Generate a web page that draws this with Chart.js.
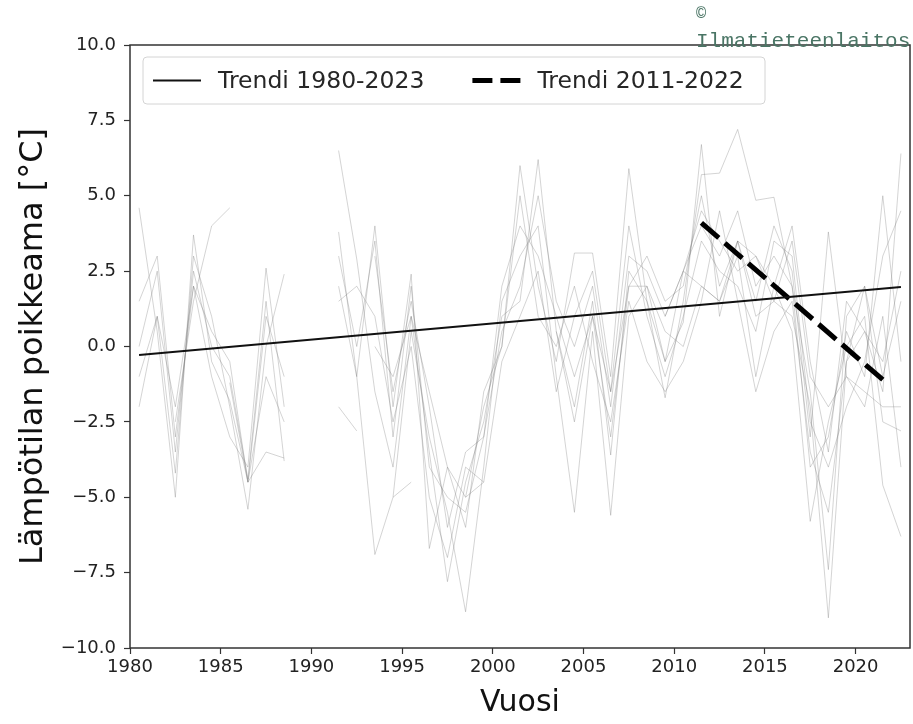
<!DOCTYPE html>
<html>
<head>
<meta charset="utf-8">
<script src="https://cdn.jsdelivr.net/npm/chart.js@4.4.1/dist/chart.umd.min.js"></script>
<style>
  html, body { margin: 0; padding: 0; background: #fff; }
  #wrap { width: 913px; height: 724px; position: relative; }
</style>
</head>
<body>
<div id="wrap"><canvas id="chart"></canvas></div>
<script>
const gap = (n) => Array(n).fill(null);

// years 1980..2022, annual anomalies per station (null = no data)
const years = [];
for (let y = 1980; y <= 2022; y++) years.push(y);

const station1 = [4.6, 0.5, -5.0, 3.7, -0.5, -1.8, -4.5, -1.0, -2.5, null, null,
  6.5, 2.9, -1.5, -4.0, 1.0, -3.5, -7.8, -4.5, -2.5, 1.0, 1.5, 6.2, 0.5, -2.0, 1.5, -3.6,
  2.5, 1.5, -0.5, 0.8, 6.7, 1.0, 3.5, 3.0, 1.5, 1.0, -2.0, -9.0, -0.5, 0.5, -1.5, 6.4];
const station2 = [1.5, 3.0, -3.0, 2.0, -1.0, -3.0, -4.0, 2.6, -2.0, null, null,
  3.8, -1.0, 4.0, -2.0, 2.4, -6.7, -4.0, -6.0, -1.5, 0.0, 6.0, 2.0, -0.5, 3.1, 3.1, -1.0,
  5.9, 1.5, -1.7, 1.5, 5.7, 5.75, 7.2, 4.85, 4.95, 2.0, -4.0, -3.0, 0.5, -1.0, 5.0, -0.5];
const station3 = [-2.0, 1.0, -4.2, 3.0, 1.0, -2.0, -5.4, 0.0, 2.4, null, null,
  2.0, -1.0, -6.9, -5.0, 0.5, -3.0, -5.5, -8.8, -4.0, 1.5, 3.0, 4.0, -1.0, -5.5, 0.5, -5.6,
  1.0, 2.0, 0.5, 0.0, 2.0, 1.5, 3.0, -1.0, 2.0, 0.5, -5.8, -2.5, 0.0, 1.0, -4.6, -6.3];
const station4 = [null, null, -2.5, 1.5, 4.0, 4.6, ...gap(7),
  3.0, -1.5, 1.5, -2.0, -6.0, -3.5, -3.0, 0.5, 2.0, 5.0, 1.5, 0.0, 2.0, -2.0,
  3.0, 2.5, 1.0, 2.5, 4.0, 3.0, 4.5, 2.0, 3.0, 2.0, -1.5, -7.4, 1.0, 2.0, -1.0, 1.5];
const station5 = [0.0, 2.5, -3.5, 2.5, 0.0, -1.0, -4.4, 1.5, -3.8, null, null,
  3.0, 0.0, 3.5, -3.0, 2.0, -4.0, -5.0, -5.5, -3.0, 2.0, 4.0, 3.0, 1.0, -1.0, 1.0, -3.0,
  2.0, 3.0, 1.5, 2.0, 5.0, 2.0, 3.5, 1.5, 4.0, 2.5, -3.0, 3.8, -1.0, -2.0, 1.0, -4.0];
const station6 = [...gap(11),
  1.5, 2.0, 1.0, -2.5, 0.0, -5.0, -7.0, -4.0, -4.5, -0.5, 1.0, 2.5, -1.5, 1.0, 2.5, -1.5,
  4.0, 1.0, -1.0, 1.0, 3.5, 2.5, 2.0, 0.5, 3.5, 3.0, -2.5, -4.0, -2.0, -0.5, 3.0, 4.5];
const station7 = [...gap(13),
  0.0, -1.0, 1.0, -1.5, -4.0, -5.0, -2.0, 0.0, 5.0, 1.0, 0.0, 2.0, -0.5, -2.5,
  1.5, -0.5, -1.5, -0.5, 1.5, 4.5, 1.5, -1.5, 0.5, 1.5, -3.5, -5.5, -0.5, 2.0, -2.5, -2.8];
const station8 = [-1.0, 1.0, -2.0, 2.0, 0.5, -0.5, -4.5, 1.0, -1.0, ...gap(14),
  0.5, -2.5, 1.0, -1.5, 2.0, 2.0, -0.5, 2.5, 4.5, 3.5, 2.5, 3.0, 2.0, 4.0, -0.5, -3.5,
  1.5, 0.5, -0.5, 2.5];
const station9 = [...gap(11), -2.0, -2.8, null, -5.0, -4.5, null, null, -5.0, -4.5, ...gap(23)];
const station10 = [...gap(29), 1.0, 2.5, 2.0, 1.5, 3.5, 1.0, 1.5, 3.5, -1.0, -2.0, -1.0, -1.5, -2.0, -2.0];
const station11 = [...gap(5), -1.2, -4.5, -3.5, -3.7, ...gap(34)];

const stations = [station1, station2, station3, station4, station5, station6,
  station7, station8, station9, station10, station11];

// fitted trends (start/end)
const trendLongYears = [1980.5, 2022.5];
const trendLongValues = [-0.28, 1.97];
const trendShortYears = [2011.5, 2021.5];
const trendShortValues = [4.1, -1.1];

const xTicks = [1980, 1985, 1990, 1995, 2000, 2005, 2010, 2015, 2020];
const yTicks = [-10, -7.5, -5, -2.5, 0, 2.5, 5, 7.5, 10];

const FONT = 'DejaVu Sans';

// annual values plotted at mid-year
const toPoints = (xs, vs, shift) => xs.map((x, i) => ({ x: x + shift, y: vs[i] }));

const datasets = [
  {
    label: 'Trendi 1980-2023',
    data: toPoints(trendLongYears, trendLongValues, 0),
    borderColor: '#111',
    borderWidth: 2,
    pointRadius: 0,
    order: 0,
    isTrend: true,
  },
  {
    label: 'Trendi 2011-2022',
    data: toPoints(trendShortYears, trendShortValues, 0),
    borderColor: '#000',
    borderWidth: 5,
    borderDash: [23, 8],
    borderCapStyle: 'butt',
    pointRadius: 0,
    order: 0,
    isTrend: true,
  },
];
stations.forEach((s, i) => {
  datasets.push({
    label: 'asema ' + (i + 1),
    data: toPoints(years, s, 0.5),
    borderColor: 'rgba(120, 120, 120, 0.32)',
    borderWidth: 1,
    pointRadius: 0,
    spanGaps: false,
    order: 1,
  });
});

const frameAndLegend = {
  id: 'frameAndLegend',
  afterDatasetsDraw(chart) {
    const { ctx, chartArea: a } = chart;
    ctx.save();
    // frame
    ctx.strokeStyle = '#333';
    ctx.lineWidth = 1.5;
    ctx.strokeRect(a.left, a.top, a.right - a.left, a.bottom - a.top);

    // legend box
    const bx = a.left + 13, by = a.top + 12, bw = 622, bh = 47;
    ctx.beginPath();
    ctx.roundRect(bx, by, bw, bh, 4);
    ctx.fillStyle = 'rgba(255,255,255,0.85)';
    ctx.fill();
    ctx.strokeStyle = '#d4d4d4';
    ctx.lineWidth = 1;
    ctx.stroke();

    const trends = chart.data.datasets.filter((d) => d.isTrend);
    const cy = by + bh / 2;
    let x = bx + 10;
    ctx.font = '23.5px "' + FONT + '"';
    ctx.textBaseline = 'middle';
    trends.forEach((d) => {
      ctx.beginPath();
      ctx.strokeStyle = d.borderColor;
      ctx.lineWidth = d.borderWidth;
      ctx.setLineDash(d.borderDash ? [20, 8] : []);
      ctx.moveTo(x, cy);
      ctx.lineTo(x + 48, cy);
      ctx.stroke();
      ctx.setLineDash([]);
      ctx.fillStyle = '#262626';
      ctx.fillText(d.label, x + 65, cy + 1);
      x += 65 + ctx.measureText(d.label).width + 48;
    });
    ctx.restore();
  },
  afterDraw(chart) {
    const ctx = chart.ctx;
    ctx.save();
    ctx.fillStyle = '#4a7565';
    ctx.textBaseline = 'alphabetic';
    ctx.font = '17px "Liberation Mono"';
    ctx.fillText('\u00a9', 696, 18);
    ctx.font = '21px "Liberation Mono"';
    ctx.fillText('Ilmatieteenlaitos', 696, 47);
    ctx.restore();
  },
};

new Chart(document.getElementById('chart'), {
  type: 'line',
  data: { datasets },
  options: {
    responsive: true,
    maintainAspectRatio: false,
    animation: false,
    layout: { padding: { top: 45, right: 3, left: 0, bottom: 0 } },
    plugins: {
      legend: { display: false },
      tooltip: { enabled: false },
    },
    scales: {
      x: {
        type: 'linear',
        min: 1980,
        max: 2023,
        afterFit: (scale) => { scale.height = 76; },
        afterBuildTicks: (scale) => { scale.ticks = xTicks.map((v) => ({ value: v })); },
        ticks: {
          color: '#222',
          font: { family: FONT, size: 18 },
          padding: 3,
          maxRotation: 0,
          callback: (v) => String(v),
        },
        grid: { drawOnChartArea: false, drawTicks: true, tickLength: 6, tickColor: '#333', tickWidth: 1.2 },
        border: { display: false },
        title: {
          display: true,
          text: 'Vuosi',
          color: '#111',
          font: { family: FONT, size: 30 },
          padding: { top: 0, bottom: 3 },
        },
      },
      y: {
        min: -10,
        max: 10,
        afterFit: (scale) => { scale.width = 130; },
        afterBuildTicks: (scale) => { scale.ticks = yTicks.map((v) => ({ value: v })); },
        ticks: {
          color: '#222',
          font: { family: FONT, size: 18 },
          padding: 8,
          callback: (v) => (v < 0 ? '\u2212' : '') + Math.abs(v).toFixed(1),
        },
        grid: { drawOnChartArea: false, drawTicks: true, tickLength: 6, tickColor: '#333', tickWidth: 1.2 },
        border: { display: false },
        title: {
          display: true,
          text: 'Lämpötilan poikkeama [°C]',
          color: '#111',
          font: { family: FONT, size: 32 },
          padding: { top: 14, bottom: 0 },
        },
      },
    },
  },
  plugins: [frameAndLegend],
});
</script>
</body>
</html>
